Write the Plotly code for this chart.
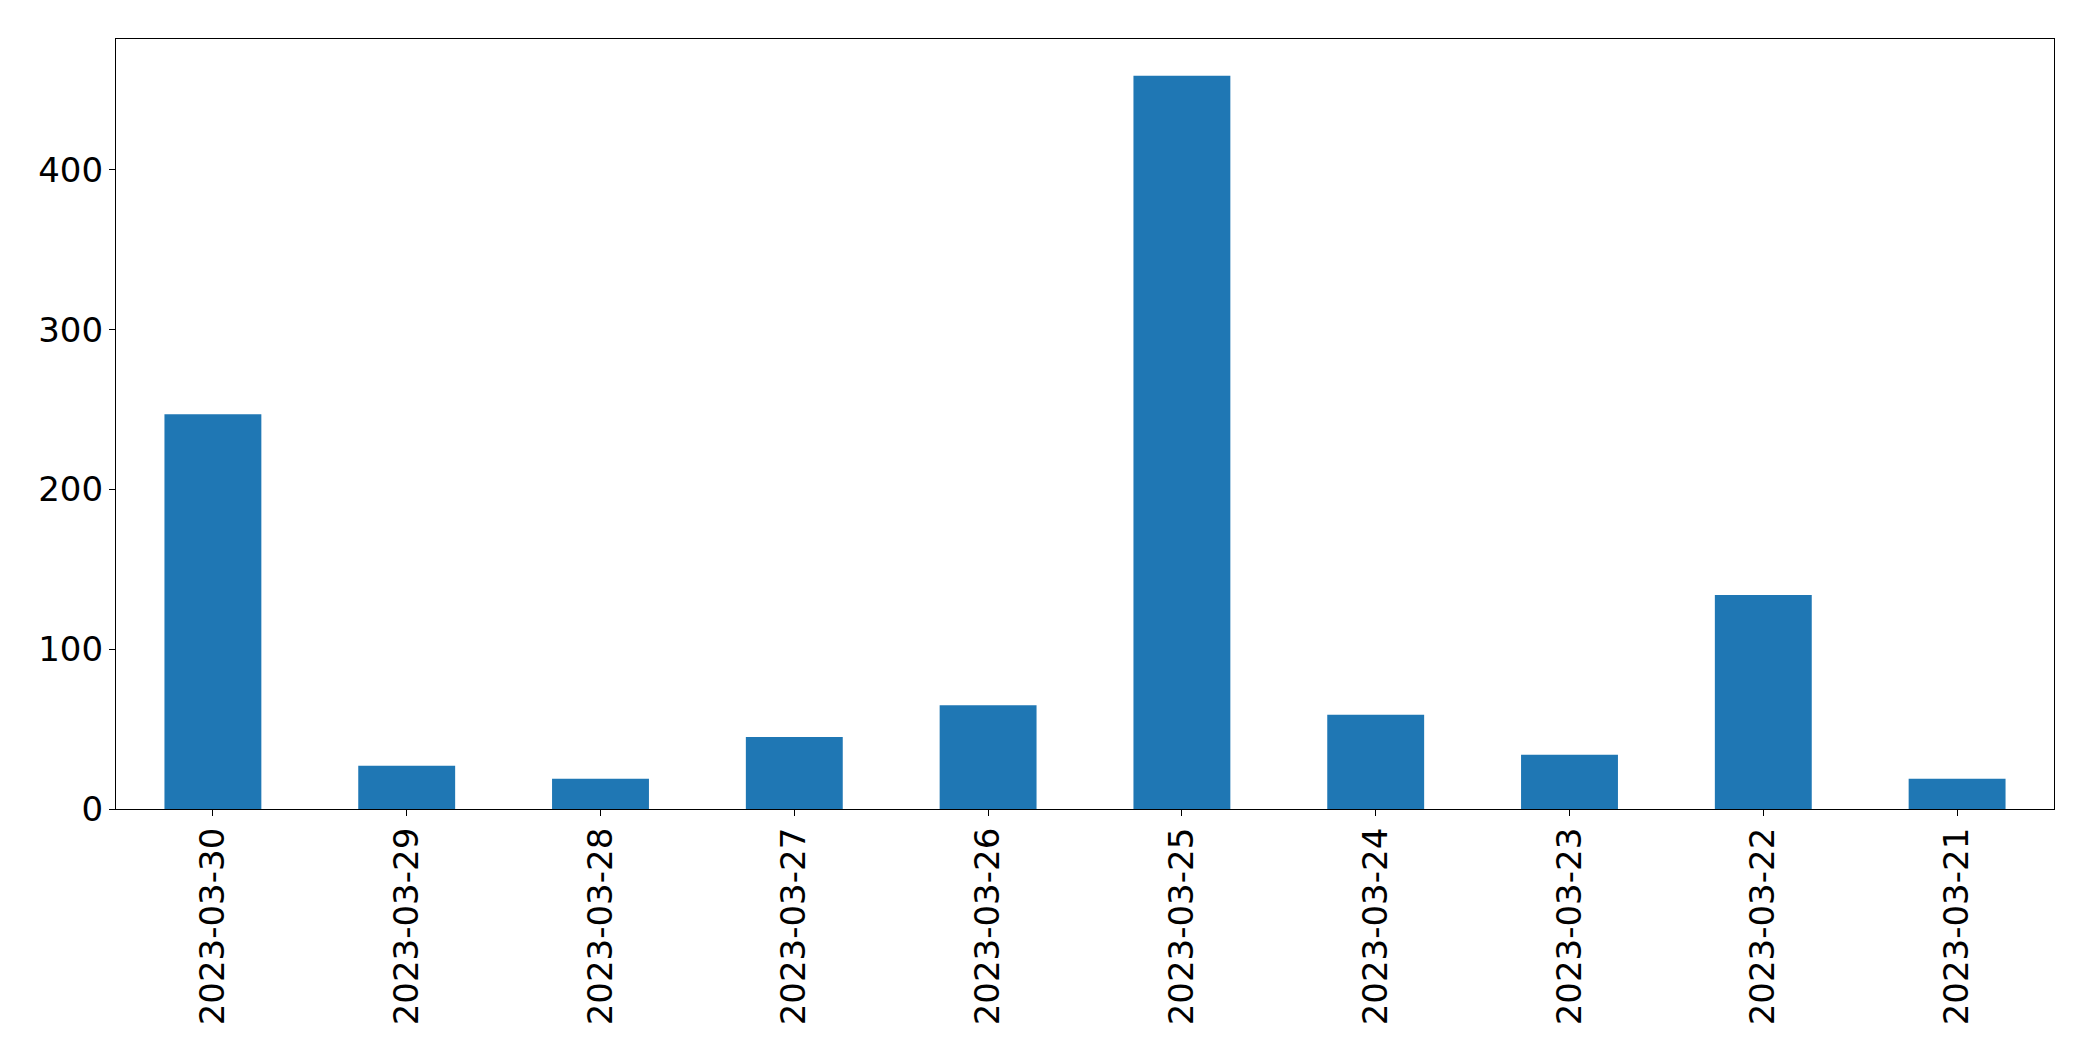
import plotly.graph_objects as go

dates = ["2023-03-30", "2023-03-29", "2023-03-28", "2023-03-27", "2023-03-26",
         "2023-03-25", "2023-03-24", "2023-03-23", "2023-03-22", "2023-03-21"]
counts = [247, 27, 19, 45, 65, 459, 59, 34, 134, 19]

fig = go.Figure(go.Bar(x=dates, y=counts, marker=dict(color="#1f77b4", line=dict(width=0)), width=0.5))

font = dict(family="DejaVu Sans", size=34, color="black")
fig.update_layout(
    width=2093, height=1061,
    margin=dict(l=108, r=47, t=31, b=260),
    paper_bgcolor="white", plot_bgcolor="white",
    showlegend=False, font=font,
)
fig.update_xaxes(
    type="category", range=[-0.5, len(dates) - 0.5],
    tickangle=-90, ticks="outside", ticklen=6, tickcolor="black", tickwidth=1,
    showline=True, linecolor="black", linewidth=1.3, mirror=True,
    showgrid=False, zeroline=False, tickfont=font, ticklabelstandoff=-2,
)
fig.update_yaxes(
    range=[0, max(counts) * 1.05], dtick=100, tick0=0,
    ticks="outside", ticklen=6, tickcolor="black", tickwidth=1,
    showline=True, linecolor="black", linewidth=1.3, mirror=True,
    showgrid=False, zeroline=False, tickfont=font, ticklabelstandoff=-1,
)
fig.write_html("out.html")
